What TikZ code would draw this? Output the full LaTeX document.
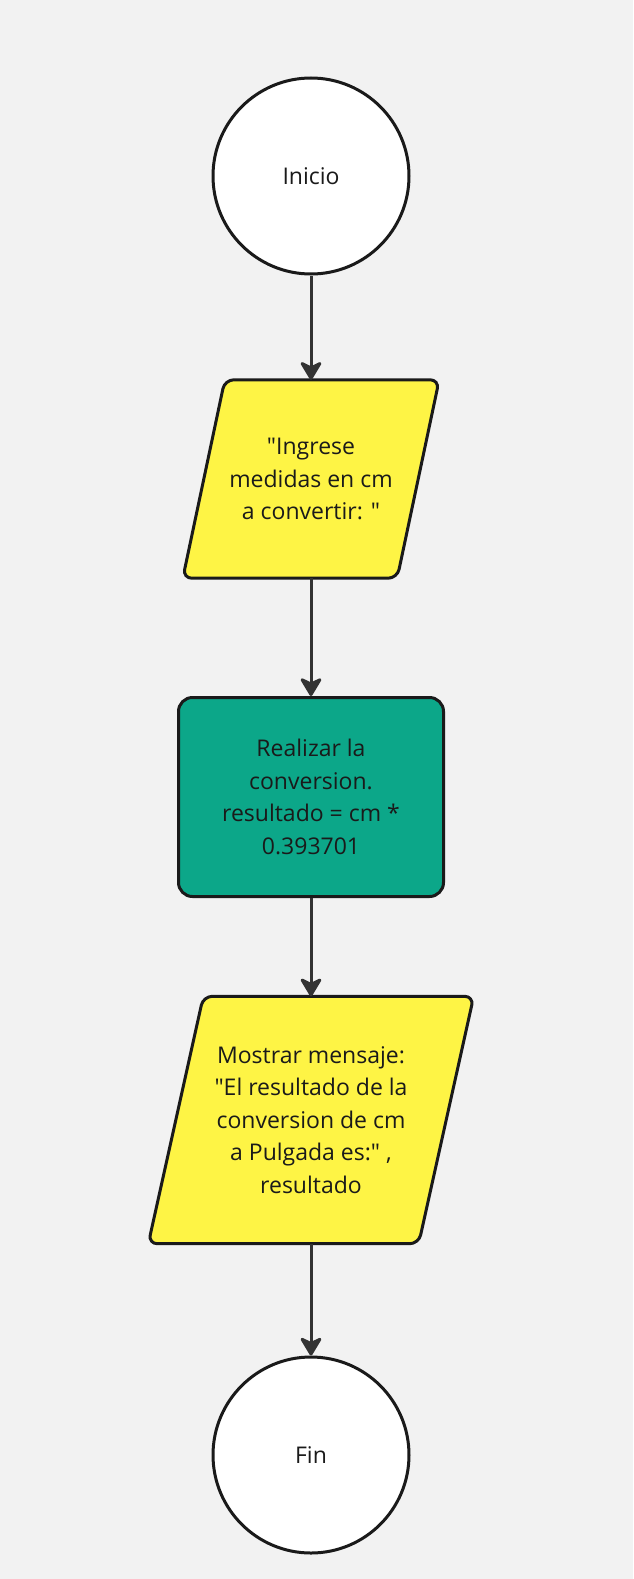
\documentclass[tikz,border=0pt]{standalone}
\usepackage{fontspec}
\setmainfont{Open Sans}
\usepackage{tikz}
\usetikzlibrary{shapes.geometric,arrows.meta,positioning,backgrounds}

\definecolor{bgcolor}{HTML}{F2F2F2}
\definecolor{ioyellow}{HTML}{FEF445}
\definecolor{procgreen}{HTML}{0CA789}
\definecolor{edgedark}{HTML}{1A1A1A}
\definecolor{arrowgray}{HTML}{333333}

\begin{document}
\begin{tikzpicture}[
    x=1pt, y=-1pt,
    terminal/.style={
        circle,
        draw=edgedark,
        fill=white,
        line width=3pt,
        minimum size=196pt,
        font=\fontsize{23}{32.5}\selectfont,
        text=edgedark
    },
    iotext/.style={
        rectangle,
        align=center,
        font=\fontsize{23}{32.5}\selectfont,
        text=edgedark
    },
    ioshape/.style={
        draw=edgedark,
        fill=ioyellow,
        line width=3pt,
        rounded corners=9pt
    },
    procbox/.style={
        rectangle,
        draw=edgedark,
        fill=procgreen,
        line width=3pt,
        rounded corners=14pt,
        minimum width=265pt,
        minimum height=199pt,
        align=center,
        font=\fontsize{23}{32.5}\selectfont,
        text=edgedark
    },
    flow/.style={
        draw=arrowgray,
        line width=3pt,
        -{Stealth[length=21pt,width=25pt,inset=6pt,round]}
    }
]

% Background and page size
\begin{scope}[on background layer]
    \fill[bgcolor] (0,0) rectangle (633,1579);
\end{scope}

% Start
\node[terminal] (inicio) at (311,176) {Inicio};

% Input (text node, parallelogram drawn behind it)
\node[iotext, minimum width=214pt, minimum height=198pt] (ingreso) at (311,479) {
    \textquotedbl Ingrese\\
    medidas en cm\\
    a convertir: \textquotedbl
};
\begin{scope}[on background layer]
    \draw[ioshape] ([xshift=21pt]ingreso.north west) -- ([xshift=21pt]ingreso.north east)
        -- ([xshift=-21pt]ingreso.south east) -- ([xshift=-21pt]ingreso.south west) -- cycle;
\end{scope}

% Process
\node[procbox] (calculo) at (311,797) {
    Realizar la\\
    conversion.\\
    resultado = cm *\\
    0.393701
};

% Output (text node, parallelogram drawn behind it)
\node[iotext, minimum width=270pt, minimum height=247pt] (mostrar) at (311,1120) {
    Mostrar mensaje:\\
    \textquotedbl El resultado de la\\
    conversion de cm\\
    a Pulgada es:\textquotedbl\ ,\\
    resultado
};
\begin{scope}[on background layer]
    \draw[ioshape] ([xshift=27.5pt]mostrar.north west) -- ([xshift=27.5pt]mostrar.north east)
        -- ([xshift=-27.5pt]mostrar.south east) -- ([xshift=-27.5pt]mostrar.south west) -- cycle;
\end{scope}

% End
\node[terminal] (fin) at (311,1455) {Fin};

% Connectors
\draw[flow] (inicio) -- (ingreso);
\draw[flow] (ingreso) -- (calculo);
\draw[flow] (calculo) -- (mostrar);
\draw[flow] (mostrar) -- (fin);

\end{tikzpicture}
\end{document}
